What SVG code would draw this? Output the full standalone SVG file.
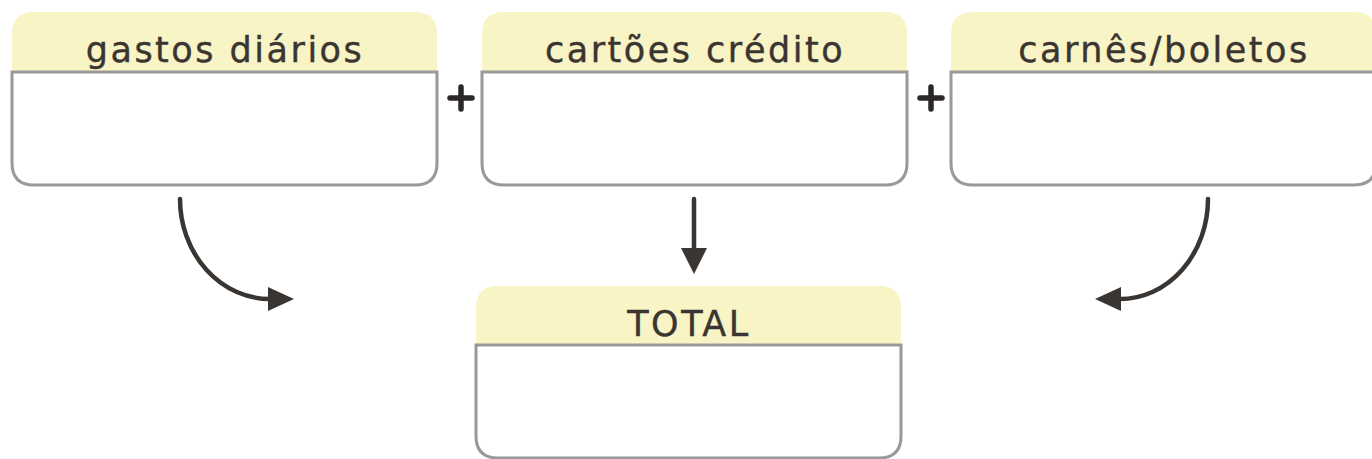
<svg xmlns="http://www.w3.org/2000/svg" width="1372" height="459" viewBox="0 0 1372 459">
<style>
.hdr{fill:#f8f4c6;}
.body{fill:#ffffff;stroke:#999999;stroke-width:3;}
.lbl{font-family:"DejaVu Sans","Noto Sans",sans-serif;font-size:35px;fill:#3a3531;text-anchor:middle;letter-spacing:2.5px;stroke:#3a3531;stroke-width:0.4;}
.plus{stroke:#2b2726;stroke-width:5.5;stroke-linecap:round;fill:none;}
.conn{stroke:#3a3531;stroke-width:4.5;fill:none;stroke-linecap:round;}
.head{fill:#3a3531;}
</style>
<rect width="1372" height="459" fill="#ffffff"/>
<g id="node-gastos">
<path class="hdr" d="M12,72 V34 Q12,12 34,12 H415 Q437,12 437,34 V72 Z"/>
<path class="body" d="M12,72 H437 V163 Q437,185 415,185 H34 Q12,185 12,163 Z"/>
<text class="lbl" x="225" y="62">gastos diários</text>
</g>
<g id="node-cartoes">
<path class="hdr" d="M482,72 V34 Q482,12 504,12 H885 Q907,12 907,34 V72 Z"/>
<path class="body" d="M482,72 H907 V163 Q907,185 885,185 H504 Q482,185 482,163 Z"/>
<text class="lbl" x="695" y="62">cartões crédito</text>
</g>
<g id="node-carnes">
<path class="hdr" d="M951,72 V34 Q951,12 973,12 H1354 Q1376,12 1376,34 V72 Z"/>
<path class="body" d="M951,72 H1376 V163 Q1376,185 1354,185 H973 Q951,185 951,163 Z"/>
<text class="lbl" x="1164" y="62">carnês/boletos</text>
</g>
<g id="node-total">
<path class="hdr" d="M476,345 V308 Q476,286 498,286 H879 Q901,286 901,308 V345 Z"/>
<path class="body" d="M476,345 H901 V436 Q901,458 879,458 H498 Q476,458 476,436 Z"/>
<text class="lbl" x="689" y="336">TOTAL</text>
</g>
<g id="plus-signs">
<path class="plus" d="M450,98 H472 M461,87 V109"/>
<path class="plus" d="M920,98 H942 M931,87 V109"/>
</g>
<g id="connectors">
<path class="conn" d="M180,199 A90 100 0 0 0 270,299"/>
<polygon class="head" points="268,287 294,299 268,311"/>
<path class="conn" d="M694,199 V250"/>
<polygon class="head" points="681,248 707,248 694,274"/>
<path class="conn" d="M1208,199 A88 100 0 0 1 1120,299"/>
<polygon class="head" points="1121,287 1095,299 1121,311"/>
</g>
</svg>
